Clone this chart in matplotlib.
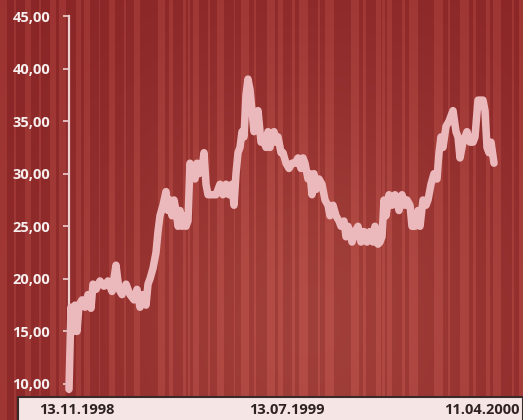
import numpy as np
import matplotlib.pyplot as plt
from matplotlib.patches import Rectangle
import matplotlib.transforms as mtransforms

plt.rcParams['font.family'] = ['Open Sans', 'DejaVu Sans']

# trading day index and closing price
days = [0, 2, 4, 6, 8, 10, 13, 16, 19, 22, 24, 27, 31, 35, 39, 43, 47, 48, 50, 53,
        57, 61, 65, 68, 71, 74, 77, 79, 81, 84, 87, 89, 91, 94, 97, 99, 101, 103, 105, 107,
        109, 111, 113, 115, 117, 119, 121, 123, 126, 128, 130, 133, 135, 137, 139, 143, 147, 151, 154, 157,
        160, 163, 165, 167, 169, 171, 173, 175, 177, 179, 181, 183, 185, 187, 189, 192, 195, 197, 199, 201,
        203, 205, 207, 209, 212, 214, 217, 220, 223, 226, 229, 232, 234, 236, 239, 241, 243, 245, 247, 250,
        253, 256, 259, 261, 264, 267, 270, 272, 275, 277, 279, 281, 283, 286, 289, 292, 295, 298, 301, 304,
        306, 309, 311, 313, 315, 317, 320, 323, 326, 328, 330, 333, 336, 338, 341, 343, 346, 349, 351, 354,
        357, 359, 362, 365, 368, 370, 372, 374, 377, 380, 382, 384, 387, 389, 391, 394, 396, 398, 401, 404,
        406, 409, 412, 414, 416, 418, 420, 422, 425]
prices = [9.5, 17.3, 15.0, 17.5, 15.0, 17.5, 18.0, 17.3, 18.5, 17.2, 19.5, 19.0, 19.8, 19.3, 19.8, 18.8, 21.3, 20.5, 19.0, 18.5,
          19.5, 18.5, 18.0, 19.0, 17.3, 18.5, 17.5, 19.5, 20.0, 21.0, 22.5, 24.5, 26.0, 27.0, 28.3, 26.5, 27.5, 26.0, 27.5, 26.5,
          25.0, 26.5, 25.0, 26.0, 25.0, 25.5, 31.0, 30.0, 29.5, 31.0, 30.0, 30.5, 32.0, 29.0, 28.0, 28.0, 28.0, 29.0, 28.0, 29.0,
          28.0, 29.0, 27.0, 30.0, 32.0, 32.5, 34.0, 33.5, 37.5, 39.0, 38.0, 36.0, 34.0, 35.0, 36.0, 33.0, 33.0, 32.5, 34.0, 32.5,
          33.5, 34.0, 33.0, 33.5, 32.0, 32.0, 31.0, 30.5, 31.0, 31.0, 31.5, 30.5, 31.5, 31.0, 29.5, 30.0, 28.0, 30.0, 28.5, 29.5,
          29.0, 27.5, 27.0, 26.0, 27.0, 26.0, 25.5, 25.0, 25.5, 24.0, 25.0, 24.5, 23.5, 24.5, 25.0, 23.5, 24.5, 23.5, 24.5, 23.5,
          25.0, 23.3, 23.5, 24.0, 27.5, 26.0, 28.0, 27.0, 28.0, 27.5, 26.5, 28.0, 27.0, 27.5, 27.0, 25.0, 25.0, 26.5, 25.0, 27.5,
          27.0, 27.5, 29.0, 30.0, 29.5, 32.0, 33.5, 32.5, 34.5, 35.0, 35.5, 36.0, 34.0, 33.5, 31.5, 33.0, 33.5, 34.0, 33.0, 33.0,
          33.5, 37.0, 37.0, 37.0, 36.0, 32.5, 32.0, 33.0, 31.0]

yticks = [10, 15, 20, 25, 30, 35, 40, 45]
ytick_labels = ['10,00', '15,00', '20,00', '25,00', '30,00', '35,00', '40,00', '45,00']
date_labels = ['13.11.1998', '13.07.1999', '11.04.2000']
date_label_days = [8, 218, 413]

W, H = 523, 420
fig = plt.figure(figsize=(W / 100, H / 100), dpi=100)

# striped dark red background with a soft lighter glow
bg = fig.add_axes([0, 0, 1, 1])
xx, yy = np.meshgrid(np.arange(W), np.arange(H))
cols = np.arange(W)
stripe = (np.sin(cols * 0.52) + np.sin(cols * 0.23 + 1.3) + 0.6 * np.sin(cols * 0.97 + 0.4)) > 0.3
stripe = stripe.astype(float)
glow = np.exp(-(((xx - 310) / 230.0) ** 2 + ((yy - 320) / 260.0) ** 2))
dark = np.array([0.54, 0.145, 0.15])
lite = np.array([0.07, 0.055, 0.045])
gl = np.array([0.09, 0.1, 0.075])
img = dark[None, None, :] + stripe[None, :, None] * lite[None, None, :] + glow[:, :, None] * gl[None, None, :]
bg.imshow(np.clip(img, 0, 1), extent=[0, W, H, 0], aspect='auto', interpolation='nearest')
bg.set_xlim(0, W)
bg.set_ylim(H, 0)
bg.axis('off')

# light band at the bottom for the dates
bg.add_patch(Rectangle((18, 397), W - 18, 30, facecolor='#f6e5e5', edgecolor='#3b2a2a', linewidth=1.5))

ax = fig.add_axes([69 / W, (H - 392) / H, 1 - 69 / W, (392 - 16) / H])
ax.patch.set_alpha(0)
ax.plot(days, prices, color='#ebb8bc', linewidth=5.4, solid_capstyle='round',
        solid_joinstyle='round', clip_on=False, zorder=3)
ax.set_xlim(0, W - 69)
ax.set_ylim(10 - 8 / 10.514, 45)

for s in ['top', 'right', 'bottom']:
    ax.spines[s].set_visible(False)
ax.spines['left'].set_color('#ecd0d0')
ax.spines['left'].set_linewidth(1.6)
ax.set_yticks(yticks)
ax.set_yticklabels(ytick_labels, fontsize=10.5, fontweight='bold', color='#f7eeee')
ax.tick_params(axis='y', length=4.5, width=1.2, color='#ecd0d0', pad=9)
ax.set_xticks([])

trans = mtransforms.blended_transform_factory(ax.transData, fig.transFigure)
for d, lab in zip(date_label_days, date_labels):
    ax.text(d, (H - 410) / H, lab, transform=trans, ha='center', va='center',
            fontsize=10.5, fontweight='bold', color='#2e2222')

fig.savefig('out.png', dpi=100)
